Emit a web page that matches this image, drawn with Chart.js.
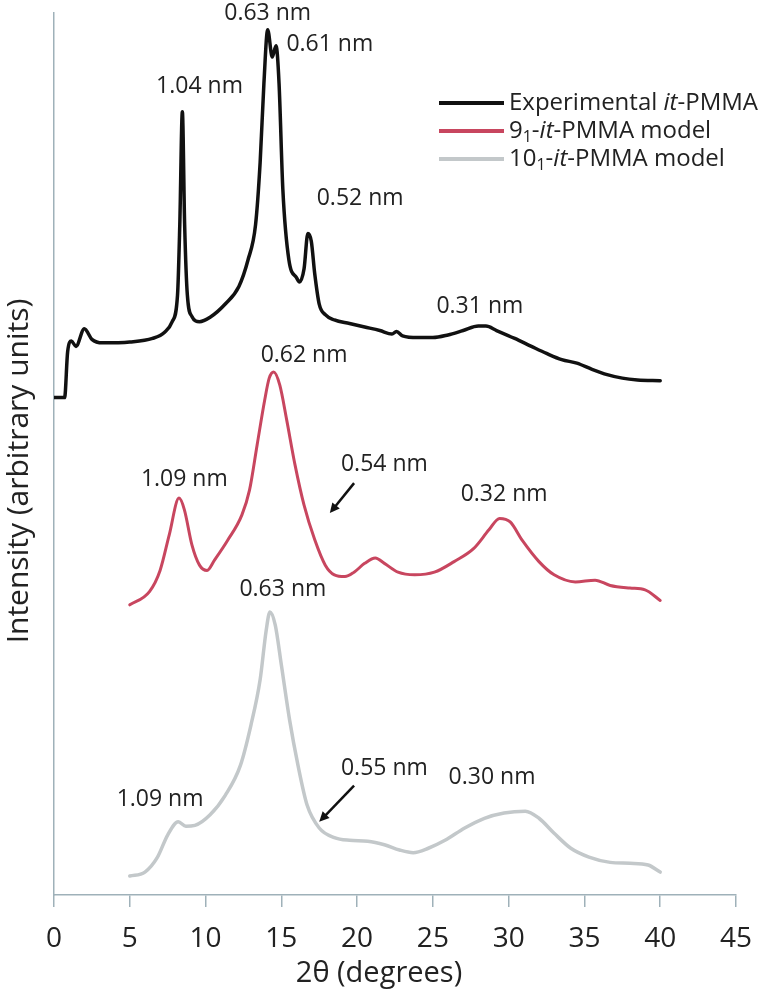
<!DOCTYPE html>
<html>
<head>
<meta charset="utf-8">
<script src="https://cdn.jsdelivr.net/npm/chart.js@4.4.0/dist/chart.umd.min.js"></script>
<style>
  html, body { margin: 0; padding: 0; background: #fff; }
</style>
</head>
<body>
<canvas id="xrdChart" width="767" height="994"></canvas>
<script>
// --- data (2θ in degrees, intensity in arbitrary units, curves offset) ---
const expTheta = [0, 0.7, 0.9, 1.15, 1.45, 2.0, 2.5, 3.2, 5, 6.5, 7.3, 7.8, 8.15, 8.3, 8.47, 8.62, 8.8, 9.1, 9.6, 10.3,
  11.3, 12.2, 12.8, 13.3, 13.6, 13.85, 14.1, 14.4, 14.65, 14.85, 15.1, 15.5, 16.0, 16.2, 16.5, 16.75, 16.98,
  17.2, 17.5, 17.9, 18.5, 19.5, 20.5, 21.5, 22.3, 22.6, 23.0, 24, 25, 26, 27, 28.0, 28.5, 29.2, 30.4, 31.5,
  32.5, 33.5, 34.5, 35.5, 36.5, 37.5, 38.5, 40];
const expInt = [56.4, 56.4, 61.6, 62.8, 62.2, 64.2, 63.0, 62.6, 62.7, 63.1, 63.8, 65.0, 68, 76, 88.8, 76, 68, 65.6, 65.0, 65.5,
  67.0, 69.0, 72.0, 76, 83, 92, 98.1, 95.0, 96.3, 92, 80, 72, 70.0, 69.5, 71, 75, 74.1,
  70.5, 67, 65.8, 65.2, 64.8, 64.4, 64.0, 63.6, 63.9, 63.4, 63.2, 63.2, 63.5, 64.0, 64.5, 64.5, 64.0, 63.1, 62.2,
  61.4, 60.7, 60.3, 59.6, 59.0, 58.6, 58.4, 58.3];

const m9Theta = [5.0, 6.3, 7.0, 7.6, 8.25, 8.6, 9.1, 9.6, 10.1, 10.6, 11.45, 12.4, 12.9, 13.4, 13.9, 14.2, 14.5, 14.9,
  15.35, 15.9, 16.5, 17.2, 17.9, 18.5, 19.2, 19.8, 20.5, 21.2, 21.8, 22.7, 23.8, 25.1, 26.4, 27.7, 28.7, 29.4,
  30.1, 30.9, 32.0, 33.0, 34.4, 35.7, 36.7, 38.0, 39.0, 40.0];
const m9Int = [32.9, 34.4, 36.8, 40.8, 45.0, 43.7, 39.7, 37.4, 36.8, 38.0, 40.2, 43.1, 45.9, 51.0, 56.1, 58.6, 59.3, 57.8,
  53.9, 48.8, 44.2, 40.3, 37.4, 36.3, 36.1, 36.6, 37.6, 38.2, 37.6, 36.6, 36.3, 36.6, 37.8, 39.3, 41.4, 42.7,
  42.3, 40.2, 37.8, 36.3, 35.5, 35.7, 35.1, 34.8, 34.6, 33.4];

const m10Theta = [5.0, 6.0, 6.8, 7.5, 8.2, 8.7, 9.3, 10.3, 11.3, 12.3, 13.0, 13.6, 14.0, 14.25, 14.6, 15.0, 15.55, 16.1,
  16.7, 17.5, 18.5, 19.5, 20.7, 21.8, 22.8, 23.7, 24.7, 25.8, 27.1, 28.4, 29.7, 31.1, 32.0, 33.0, 34.1, 35.3,
  36.7, 38.0, 39.2, 40.0];
const m10Int = [2.15, 2.6, 4.2, 6.8, 8.3, 7.8, 7.9, 9.1, 11.3, 14.7, 19.3, 24.4, 30.0, 32.1, 30.6, 26.1, 19.8, 14.7,
  10.2, 7.6, 6.5, 6.2, 6.1, 5.7, 5.1, 4.8, 5.3, 6.2, 7.6, 8.7, 9.3, 9.5, 8.7, 7.0, 5.3, 4.3,
  3.7, 3.6, 3.4, 2.6];

const xTicks = [0, 5, 10, 15, 20, 25, 30, 35, 40, 45];

// peak labels: text, 2θ, intensity where the label sits
const peakText  = ['1.04 nm', '0.63 nm', '0.61 nm', '0.52 nm', '0.31 nm',
                   '0.62 nm', '1.09 nm', '0.54 nm', '0.32 nm',
                   '0.63 nm', '1.09 nm', '0.55 nm', '0.30 nm'];
const peakTheta = [9.6, 14.1, 18.2, 20.2, 28.1,
                   16.5, 8.6, 21.8, 29.7,
                   15.1, 7.0, 21.8, 28.9];
const peakInt   = [91.7, 100, 96.4, 79.0, 66.7,
                   61.2, 47.1, 48.8, 45.4,
                   34.6, 10.8, 14.4, 13.3];

// arrows pointing at shoulders: [from θ, from I] -> [to θ, to I]
const arrowFrom = [[19.8, 46.7], [19.8, 12.4]];
const arrowTo   = [[18.2, 43.3], [17.5, 8.3]];

const FONT = '"Open Sans", Lato, sans-serif';
const TEXT = '#222';
const AXIS = '#9fb1b9';
const X_TITLE = '2θ (degrees)';
const Y_TITLE = 'Intensity (arbitrary units)';

function pairs(xs, ys) {
    return xs.map((x, i) => ({ x: x, y: ys[i] }));
}

// draws text made of normal / italic / subscript pieces
function drawRich(ctx, parts, x, y, size) {
    let cx = x;
    parts.forEach(([t, style]) => {
        let dy = 0;
        if (style === 'i') ctx.font = `italic ${size}px ${FONT}`;
        else if (style === 's') { ctx.font = `${Math.round(size * 0.65)}px ${FONT}`; dy = size * 0.28; }
        else ctx.font = `${size}px ${FONT}`;
        ctx.fillText(t, cx, y + dy);
        cx += ctx.measureText(t).width;
    });
}

const legendRows = [
    { color: '#111111', parts: [['Experimental ', 'n'], ['it', 'i'], ['-PMMA', 'n']] },
    { color: '#c8465f', parts: [['9', 'n'], ['1', 's'], ['-', 'n'], ['it', 'i'], ['-PMMA model', 'n']] },
    { color: '#c3c8ca', parts: [['10', 'n'], ['1', 's'], ['-', 'n'], ['it', 'i'], ['-PMMA model', 'n']] }
];

const overlayPlugin = {
    id: 'overlay',
    afterDraw(chart) {
        const ctx = chart.ctx;
        const xs = chart.scales.x, ys = chart.scales.y;
        ctx.save();
        ctx.fillStyle = TEXT;
        ctx.textBaseline = 'middle';

        // peak labels
        ctx.textAlign = 'center';
        ctx.font = `23px ${FONT}`;
        peakText.forEach((t, i) => {
            ctx.fillText(t, xs.getPixelForValue(peakTheta[i]), ys.getPixelForValue(peakInt[i]));
        });

        // arrows
        ctx.strokeStyle = '#111';
        ctx.lineWidth = 2.5;
        arrowFrom.forEach((f, i) => {
            const x1 = xs.getPixelForValue(f[0]), y1 = ys.getPixelForValue(f[1]);
            const x2 = xs.getPixelForValue(arrowTo[i][0]), y2 = ys.getPixelForValue(arrowTo[i][1]);
            const a = Math.atan2(y2 - y1, x2 - x1);
            const hl = 11;
            ctx.beginPath();
            ctx.moveTo(x1, y1);
            ctx.lineTo(x2 - Math.cos(a) * hl * 0.6, y2 - Math.sin(a) * hl * 0.6);
            ctx.stroke();
            ctx.beginPath();
            ctx.moveTo(x2, y2);
            ctx.lineTo(x2 - hl * Math.cos(a - 0.45), y2 - hl * Math.sin(a - 0.45));
            ctx.lineTo(x2 - hl * Math.cos(a + 0.45), y2 - hl * Math.sin(a + 0.45));
            ctx.closePath();
            ctx.fillStyle = '#111';
            ctx.fill();
        });

        // axis titles (both sit a bit off the axis middle in the original)
        ctx.fillStyle = TEXT;
        ctx.textAlign = 'center';
        ctx.textBaseline = 'alphabetic';
        ctx.font = `29px ${FONT}`;
        ctx.fillText(X_TITLE, 379, 982);
        ctx.font = `30px ${FONT}`;
        ctx.save();
        ctx.translate(28, 471);
        ctx.rotate(-Math.PI / 2);
        ctx.fillText(Y_TITLE, 0, 0);
        ctx.restore();

        // legend
        ctx.textAlign = 'left';
        ctx.textBaseline = 'middle';
        legendRows.forEach((row, i) => {
            const y = 103 + i * 28;
            ctx.strokeStyle = row.color;
            ctx.lineWidth = 4;
            ctx.beginPath();
            ctx.moveTo(439, y);
            ctx.lineTo(504, y);
            ctx.stroke();
            drawRich(ctx, row.parts, 509, y, 24);
        });
        ctx.restore();
    }
};

const lineStyle = {
    fill: false,
    pointRadius: 0,
    cubicInterpolationMode: 'monotone',
    borderJoinStyle: 'round',
    borderCapStyle: 'round'
};

new Chart(document.getElementById('xrdChart'), {
    type: 'line',
    data: {
        datasets: [
            Object.assign({ label: 'Experimental it-PMMA', data: pairs(expTheta, expInt), borderColor: '#111111', borderWidth: 3.5 }, lineStyle),
            Object.assign({ label: '9_1-it-PMMA model', data: pairs(m9Theta, m9Int), borderColor: '#c8465f', borderWidth: 3 }, lineStyle),
            Object.assign({ label: '10_1-it-PMMA model', data: pairs(m10Theta, m10Int), borderColor: '#c3c8ca', borderWidth: 3.5 }, lineStyle)
        ]
    },
    options: {
        responsive: false,
        animation: false,
        devicePixelRatio: 1,
        layout: { padding: { top: 13, right: 30, left: 0, bottom: 0 } },
        plugins: {
            legend: { display: false },
            tooltip: { enabled: false }
        },
        scales: {
            x: {
                type: 'linear',
                min: 0,
                max: 45,
                afterBuildTicks: (s) => { s.ticks = xTicks.map(v => ({ value: v })); },
                afterFit: (s) => { s.height = 99; },
                border: { display: true, color: AXIS, width: 1.5 },
                grid: { display: true, drawOnChartArea: false, drawTicks: true, tickLength: 12, color: AXIS, lineWidth: 1.5 },
                ticks: { color: TEXT, font: { family: FONT, size: 28 }, padding: 15, maxRotation: 0 },
                title: { display: false }
            },
            y: {
                min: 0,
                max: 100,
                afterFit: (s) => { s.width = 54; },
                border: { display: true, color: AXIS, width: 1.5 },
                grid: { display: false },
                ticks: { display: false },
                title: { display: false }
            }
        }
    },
    plugins: [overlayPlugin]
});
</script>
</body>
</html>
